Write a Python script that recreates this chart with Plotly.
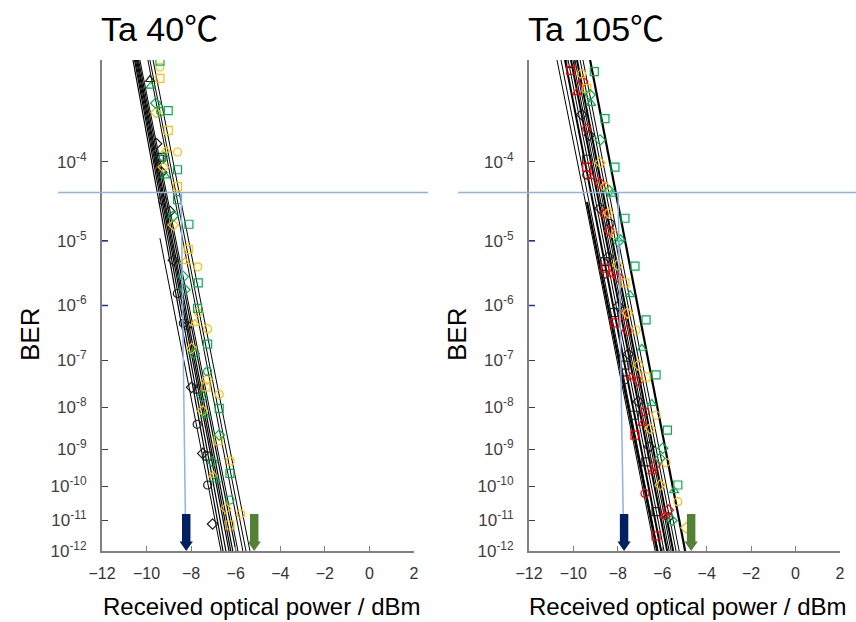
import math
import plotly.graph_objects as go

W, H = 856, 622

# ---------------- axis / reference values ----------------
x_tick_vals = [-12, -10, -8, -6, -4, -2, 0, 2]
x_range = [-12, 2]
ber_tick_exps = [4, 5, 6, 7, 8, 9, 10, 11, 12]      # tick labels 10^-n
ber_top_exp = 3                                      # BER = 1e-3 at top
ber_bottom_exp = 12                                  # BER = 1e-12 at bottom
fec_threshold_exp = 4.36                             # threshold BER ~ 4.4e-5

panel_titles = ["Ta 40℃", "Ta 105℃"]
y_title = "BER"
x_title = "Received optical power / dBm"

# sensitivity arrows / guide lines (dBm)
t40_navy_arrow_dbm = -8.22
t40_green_arrow_dbm = -5.17
t40_guide_top_dbm = -8.45
t40_guide_bottom_dbm = -8.26
t105_navy_arrow_dbm = -7.72
t105_green_arrow_dbm = -4.70
t105_guide_top_dbm = -7.99
t105_guide_bottom_dbm = -7.76

# ---------------- Ta 40C : fitted lines ----------------
t40_fit_p_start = [-10.61, -10.54, -10.50, -10.45, -10.41, -10.36, -10.30, -9.94, -9.85, -9.71, -9.40]
t40_fit_p_end = [-6.57, -6.44, -6.30, -6.22, -6.13, -5.99, -5.90, -5.68, -5.54, -5.36, -6.66]
t40_fit_exp_start = [3, 3, 3, 3, 3, 3, 3, 3, 3, 3, 4.96]
t40_fit_exp_end = [12, 12, 12, 12, 12, 12, 12, 12, 12, 12, 12]
t40_fit_width = [1.2, 1.2, 1.2, 1.2, 1.2, 1.2, 1.0, 1.0, 1.0, 1.0, 1.0]

# ---------------- Ta 40C : measured points (dBm, -log10 BER) ----------------
t40_black_circle_p = [-9.28, -8.62, -8.35, -8.18, -7.73, -7.26]
t40_black_circle_e = [4.46, 5.80, 6.31, 6.35, 8.39, 9.96]
t40_black_square_p = [-9.43, -9.35, -7.68, -7.28]
t40_black_square_e = [3.97, 3.95, 7.60, 9.18]
t40_black_diamond_p = [-9.55, -9.32, -8.95, -8.80, -7.98, -7.48, -7.04]
t40_black_diamond_e = [3.80, 4.12, 4.60, 5.28, 7.56, 9.11, 11.12]
t40_black_triangle_p = [-9.85]
t40_black_triangle_e = [3.17]

t40_yellow_circle_p = [-9.40, -8.61, -7.70, -7.68, -7.26, -6.74, -6.25, -5.77]
t40_yellow_circle_e = [3.06, 3.89, 5.38, 6.12, 6.41, 7.71, 9.31, 10.81]
t40_yellow_square_p = [-9.40, -9.03, -8.61, -8.13, -7.34, -6.79, -6.26]
t40_yellow_square_e = [3.16, 3.66, 4.29, 5.12, 7.55, 8.79, 11.15]
t40_yellow_diamond_p = [-9.58, -9.25, -8.80, -7.98, -7.28, -7.48, -6.44]
t40_yellow_diamond_e = [3.48, 4.06, 4.78, 6.77, 7.39, 8.08, 10.64]
t40_yellow_triangle_p = [-9.14, -8.28, -7.83, -7.01]
t40_yellow_triangle_e = [3.87, 5.30, 6.31, 9.69]

t40_green_square_p = [-9.40, -9.03, -8.61, -8.61, -8.10, -7.68, -7.71, -7.26, -6.74, -6.26]
t40_green_square_e = [3.01, 3.46, 4.09, 4.45, 4.77, 5.63, 6.05, 6.69, 8.02, 9.64]
t40_green_circle_p = [-9.37, -7.26, -6.26]
t40_green_circle_e = [3.47, 7.23, 10.39]
t40_green_diamond_p = [-9.59, -9.23, -8.80, -8.35, -8.28, -7.86, -7.50, -6.74, -7.04]
t40_green_diamond_e = [3.39, 3.95, 4.66, 5.53, 5.74, 6.87, 7.76, 8.65, 9.33]
t40_green_triangle_p = [-9.82, -9.16, -7.38, -6.89]
t40_green_triangle_e = [3.23, 4.16, 8.18, 9.82]

# ---------------- Ta 105C : fitted lines ----------------
t105_fit_p_start = [-10.74, -10.56, -10.38, -10.24, -10.11, -10.02, -9.93, -9.84, -9.70, -9.57, -9.25, -9.39]
t105_fit_p_end = [-6.32, -6.19, -6.05, -5.92, -5.78, -5.69, -5.60, -5.51, -5.38, -5.24, -4.97, -6.23]
t105_fit_exp_start = [3, 3, 3, 3, 3, 3, 3, 3, 3, 3, 3, 4.48]
t105_fit_exp_end = [12, 12, 12, 12, 12, 12, 12, 12, 12, 12, 12, 12]
t105_fit_width = [1.0, 1.0, 2.0, 1.0, 2.0, 1.0, 1.0, 2.0, 1.0, 1.0, 2.2, 2.2]

# ---------------- Ta 105C : measured points ----------------
t105_black_circle_p = [-9.40, -8.35, -8.58, -7.68]
t105_black_circle_e = [4.15, 4.76, 5.49, 7.40]
t105_black_square_p = [-10.12, -9.40, -8.58, -8.17, -7.68, -7.26, -6.74, -6.28]
t105_black_square_e = [3.03, 3.97, 5.30, 6.12, 7.10, 8.18, 9.33, 10.74]
t105_black_diamond_p = [-9.63, -9.28, -8.80, -8.43, -7.98, -7.53, -7.08, -6.58, -5.73]
t105_black_diamond_e = [3.50, 3.71, 4.56, 5.23, 6.01, 6.88, 7.87, 8.94, 10.91]

t105_red_square_p = [-10.12, -9.40, -8.58, -8.13, -7.23, -6.28]
t105_red_square_e = [3.09, 4.06, 5.40, 6.30, 8.65, 11.50]
t105_red_circle_p = [-9.40, -8.62, -7.72, -6.78, -6.78]
t105_red_circle_e = [3.64, 4.63, 6.18, 8.10, 10.20]
t105_red_diamond_p = [-9.58, -8.80, -8.38, -7.98, -7.57, -7.08, -6.32, -5.73]
t105_red_diamond_e = [3.19, 4.25, 4.86, 5.54, 6.44, 7.42, 9.41, 10.69]
t105_red_triangle_p = [-9.85, -9.21, -8.32, -7.42, -6.90, -6.45, -5.92]
t105_red_triangle_e = [3.29, 4.17, 5.49, 7.34, 8.37, 9.59, 10.87]

t105_yellow_circle_p = [-9.63, -8.58, -8.13, -7.18, -6.28, -5.83, -5.30]
t105_yellow_circle_e = [3.12, 4.29, 4.91, 6.43, 8.18, 9.35, 10.44]
t105_yellow_square_p = [-9.40, -7.68, -6.73]
t105_yellow_square_e = [3.25, 5.63, 7.34]
t105_yellow_diamond_p = [-8.80, -8.43, -8.02, -7.57, -7.08, -6.55, -6.10, -4.93]
t105_yellow_diamond_e = [4.01, 4.62, 5.35, 6.13, 7.10, 8.49, 9.96, 11.24]

t105_green_square_p = [-9.06, -8.58, -8.13, -7.68, -7.23, -6.73, -6.28, -5.77, -5.30]
t105_green_square_e = [3.10, 3.54, 4.06, 4.69, 5.37, 6.25, 7.30, 8.53, 9.96]
t105_green_diamond_p = [-9.25, -8.80, -8.38, -7.98, -5.98, -6.10, -5.57]
t105_green_diamond_e = [3.31, 3.76, 4.34, 5.01, 8.98, 9.24, 11.01]
t105_green_triangle_p = [-9.21, -8.28, -7.87, -7.45, -6.92, -6.47, -5.47]
t105_green_triangle_e = [3.39, 4.38, 4.97, 5.82, 6.77, 7.91, 10.12]

# ---------------- styling ----------------
COL = {"black": "#1e1e1e", "yellow": "#FFC000", "green": "#00B050", "red": "#FF0000"}
SYM = {"circle": "circle-open", "square": "square-open",
       "diamond": "diamond-open", "triangle": "triangle-up-open"}
BLUE_LINE = "#8DB4E2"
NAVY = "#002060"
OLIVE = "#548235"
AXIS_GRAY = "#808080"
FONT = "Liberation Sans, Arial, Noto Sans CJK JP, sans-serif"


def ty(exp_val):
    """BER axis transform: log10(-log10(BER)), with exp_val = -log10(BER)."""
    return math.log10(exp_val)


t40_series = [
    ("black", "circle", t40_black_circle_p, t40_black_circle_e),
    ("black", "square", t40_black_square_p, t40_black_square_e),
    ("black", "diamond", t40_black_diamond_p, t40_black_diamond_e),
    ("black", "triangle", t40_black_triangle_p, t40_black_triangle_e),
    ("yellow", "circle", t40_yellow_circle_p, t40_yellow_circle_e),
    ("yellow", "square", t40_yellow_square_p, t40_yellow_square_e),
    ("yellow", "diamond", t40_yellow_diamond_p, t40_yellow_diamond_e),
    ("yellow", "triangle", t40_yellow_triangle_p, t40_yellow_triangle_e),
    ("green", "square", t40_green_square_p, t40_green_square_e),
    ("green", "circle", t40_green_circle_p, t40_green_circle_e),
    ("green", "diamond", t40_green_diamond_p, t40_green_diamond_e),
    ("green", "triangle", t40_green_triangle_p, t40_green_triangle_e),
]
t105_series = [
    ("black", "circle", t105_black_circle_p, t105_black_circle_e),
    ("black", "square", t105_black_square_p, t105_black_square_e),
    ("black", "diamond", t105_black_diamond_p, t105_black_diamond_e),
    ("red", "square", t105_red_square_p, t105_red_square_e),
    ("red", "circle", t105_red_circle_p, t105_red_circle_e),
    ("red", "diamond", t105_red_diamond_p, t105_red_diamond_e),
    ("red", "triangle", t105_red_triangle_p, t105_red_triangle_e),
    ("yellow", "circle", t105_yellow_circle_p, t105_yellow_circle_e),
    ("yellow", "square", t105_yellow_square_p, t105_yellow_square_e),
    ("yellow", "diamond", t105_yellow_diamond_p, t105_yellow_diamond_e),
    ("green", "square", t105_green_square_p, t105_green_square_e),
    ("green", "diamond", t105_green_diamond_p, t105_green_diamond_e),
    ("green", "triangle", t105_green_triangle_p, t105_green_triangle_e),
]

panels = [
    dict(xa="x", ya="y", fit=(t40_fit_p_start, t40_fit_p_end, t40_fit_exp_start, t40_fit_exp_end, t40_fit_width),
         series=t40_series, navy=t40_navy_arrow_dbm, green=t40_green_arrow_dbm,
         gtop=t40_guide_top_dbm, gbot=t40_guide_bottom_dbm,
         xdom=[102 / W, 414 / W], hline=[58 / W, 428 / W]),
    dict(xa="x2", ya="y2", fit=(t105_fit_p_start, t105_fit_p_end, t105_fit_exp_start, t105_fit_exp_end, t105_fit_width),
         series=t105_series, navy=t105_navy_arrow_dbm, green=t105_green_arrow_dbm,
         gtop=t105_guide_top_dbm, gbot=t105_guide_bottom_dbm,
         xdom=[529 / W, 840 / W], hline=[458 / W, 1.0]),
]
ydom = [1 - 551 / H, 1 - 60 / H]

fig = go.Figure()
shapes = []
annotations = []

ARROW_TOP_EXP = 10.81
ARROW_NECK_EXP = 11.68
BODY_HW = 0.19
HEAD_HW = 0.30

for i, pn in enumerate(panels):
    ps, pe, es, ee, wd = pn["fit"]
    for a, b, c, d, w in zip(ps, pe, es, ee, wd):
        fig.add_trace(go.Scatter(x=[a, b], y=[ty(c), ty(d)], mode="lines",
                                 line=dict(color="#000000", width=w),
                                 xaxis=pn["xa"], yaxis=pn["ya"], showlegend=False,
                                 hoverinfo="skip"))
    for col, sym, px, pe_ in pn["series"]:
        fig.add_trace(go.Scatter(x=px, y=[ty(v) for v in pe_], mode="markers",
                                 marker=dict(symbol=SYM[sym], size=8, color=COL[col],
                                             line=dict(color=COL[col], width=1.2)),
                                 xaxis=pn["xa"], yaxis=pn["ya"], showlegend=False))
    # threshold line
    shapes.append(dict(type="line", xref="paper", yref=pn["ya"],
                       x0=pn["hline"][0], x1=pn["hline"][1],
                       y0=ty(fec_threshold_exp), y1=ty(fec_threshold_exp),
                       line=dict(color=BLUE_LINE, width=1.5), layer="above"))
    # guide line down to arrow
    shapes.append(dict(type="line", xref=pn["xa"], yref=pn["ya"],
                       x0=pn["gtop"], x1=pn["gbot"],
                       y0=ty(fec_threshold_exp), y1=ty(ARROW_TOP_EXP),
                       line=dict(color=BLUE_LINE, width=1.5), layer="above"))
    # arrows
    for xc, colr in ((pn["navy"], NAVY), (pn["green"], OLIVE)):
        yt, yn, yb = ty(ARROW_TOP_EXP), ty(ARROW_NECK_EXP), ty(ber_bottom_exp)
        path = (f"M {xc - BODY_HW},{yt} L {xc + BODY_HW},{yt} L {xc + BODY_HW},{yn} "
                f"L {xc + HEAD_HW},{yn} L {xc},{yb} L {xc - HEAD_HW},{yn} L {xc - BODY_HW},{yn} Z")
        shapes.append(dict(type="path", xref=pn["xa"], yref=pn["ya"], path=path,
                           fillcolor=colr, line=dict(color=colr, width=0), layer="above"))
    # blue tick marks for 1e-5 and 1e-6
    for n in (5, 6):
        shapes.append(dict(type="line", xref="paper", yref=pn["ya"],
                           x0=pn["xdom"][0], x1=pn["xdom"][0] + 6 / W,
                           y0=ty(n), y1=ty(n), line=dict(color="#2233AA", width=1.5),
                           layer="above"))
    # texts
    annotations.append(dict(text=panel_titles[i], xref="paper", yref="paper",
                            x=pn["xdom"][0] - 3 / W, y=1 - 29 / H, xanchor="left", yanchor="middle",
                            showarrow=False, font=dict(family=FONT, size=34, color="#000000")))
    annotations.append(dict(text=y_title, xref="paper", yref="paper",
                            x=pn["xdom"][0] - 72 / W, y=1 - 335 / H, textangle=-90,
                            xanchor="center", yanchor="middle", showarrow=False,
                            font=dict(family=FONT, size=26, color="#000000")))
    annotations.append(dict(text=x_title, xref="paper", yref="paper",
                            x=(pn["xdom"][0] + pn["xdom"][1]) / 2 + 3 / W, y=1 - 606 / H,
                            xanchor="center", yanchor="middle", showarrow=False,
                            font=dict(family=FONT, size=24, color="#000000")))

x_tick_text = [("\u2212" + str(-v)) if v < 0 else str(v) for v in x_tick_vals]
y_tick_vals = [ty(n) for n in ber_tick_exps]
y_tick_text = [f"10<sup>-{n}</sup>" for n in ber_tick_exps]

common_x = dict(range=x_range, tickvals=x_tick_vals, ticktext=x_tick_text,
                showline=True, linecolor=AXIS_GRAY, linewidth=2, ticks="inside",
                ticklen=5, tickwidth=1.2, tickcolor=AXIS_GRAY, showgrid=False, zeroline=False,
                ticklabelstandoff=7, automargin=False,
                tickfont=dict(family=FONT, size=16, color="#333333"))
common_y = dict(range=[ty(ber_bottom_exp), ty(ber_top_exp)], tickvals=y_tick_vals,
                ticktext=y_tick_text, showline=True, linecolor=AXIS_GRAY, linewidth=2,
                ticks="inside", ticklen=6, tickwidth=1.2, tickcolor="#404040",
                showgrid=False, zeroline=False, ticklabelstandoff=10, automargin=False,
                tickfont=dict(family=FONT, size=17, color="#404040"), domain=ydom)

fig.update_layout(
    width=W, height=H, margin=dict(l=0, r=0, t=0, b=0, autoexpand=False),
    paper_bgcolor="white", plot_bgcolor="white",
    xaxis=dict(domain=panels[0]["xdom"], anchor="y", **common_x),
    yaxis=dict(anchor="x", **common_y),
    xaxis2=dict(domain=panels[1]["xdom"], anchor="y2", **common_x),
    yaxis2=dict(anchor="x2", **common_y),
    shapes=shapes, annotations=annotations, showlegend=False,
)

fig.write_html("out.html", config={"displayModeBar": False},
               post_script="document.body.style.margin='0';")
